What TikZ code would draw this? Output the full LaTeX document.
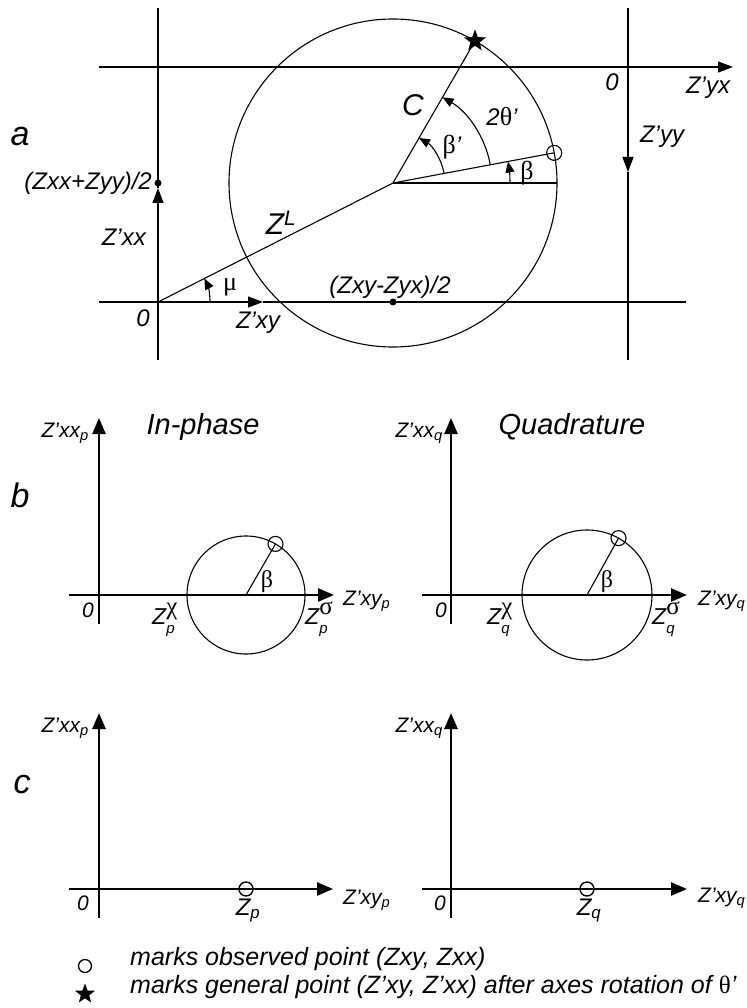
\documentclass[tikz,border=0pt]{standalone}
\usepackage{fontspec}
\setmainfont{Liberation Sans}
\newfontfamily\grk{Liberation Serif}
\usepackage{tikz}
\usetikzlibrary{arrows.meta,shapes.geometric,calc}
\newcommand{\fsz}[1]{\fontsize{#1}{#1}\selectfont}
\newcommand{\gk}[1]{{\grk\upshape #1}}
\newcommand{\Zsp}[2]{Z\makebox[0pt][l]{\raisebox{-0.42em}{\fsz{15}#2}}\raisebox{0.40em}{\grk\upshape\fsz{25}#1}}

\begin{document}
\begin{tikzpicture}[x=1pt, y=-1pt,
lbl/.style={font=\itshape\fsz{24}, inner sep=0pt},
axlbl/.style={font=\itshape\fsz{21}, inner sep=0pt},
part/.style={font=\itshape\fsz{34}, inner sep=0pt},
title/.style={font=\itshape\fsz{29}, inner sep=0pt},
greek/.style={font=\grk\upshape\fsz{26}, inner sep=0pt},
legend/.style={font=\itshape\fsz{25}, inner sep=0pt, anchor=base west},
thinl/.style={line width=1.1pt},
axis/.style={line width=2.6pt},
obs/.style={circle, draw, line width=1.1pt, minimum size=15pt, inner sep=0pt},
starmark/.style={star, star points=5, star point ratio=2.4, fill=black, inner sep=0pt, minimum size=23pt},
dot/.style={circle, fill, inner sep=0pt, minimum size=7pt},
big/.style={-{Triangle[length=15pt,width=11pt]}},
small/.style={-{Triangle[length=11pt,width=9pt]}},
axarr/.style={-{Triangle[length=16pt,width=13pt]}}]
\useasboundingbox (0,0) rectangle (746,1008);

% a: rotation diagram
\coordinate (Oa) at (158,302); \coordinate (Cc) at (393,183);
\coordinate (obs) at ($(Cc)+(-10.6:164)$); \coordinate (gen) at ($(Cc)+(-60:164)$);
\coordinate (ltop) at (158,8); \coordinate (lbot) at (158,360); \coordinate (lmid) at (158,188);
\coordinate (rtop) at (628,8); \coordinate (rbot) at (628,360); \coordinate (rmid) at (628,172);
\coordinate (tl) at (99,67); \coordinate (tr) at (733,67);
\coordinate (bl) at (99,302); \coordinate (br) at (686,302); \coordinate (bmid) at (263,302);
\draw[thinl, big] (tl) -- (tr);
\draw[thinl] (bl) -- (Oa); \draw[thinl, big] (Oa) -- (bmid); \draw[thinl] (bmid) -- (br);
\draw[thinl, big] (lbot) -- (lmid); \draw[thinl] (lmid) -- (ltop);
\draw[thinl, big] (rtop) -- (rmid); \draw[thinl] (rmid) -- (rbot);
\draw[thinl] (Cc) circle[radius=164];
\draw[thinl] (Oa) -- (Cc); \draw[thinl] (Cc) -- (gen); \draw[thinl] (Cc) -- (obs); \draw[thinl] (Cc) -- ++(164,0);
\draw[thinl, small] ([shift={(0:52)}]Oa) arc[start angle=0, end angle=-27, radius=52];
\draw[thinl, small] ([shift={(0:117)}]Cc) arc[start angle=0, end angle=-10.6, radius=117];
\draw[thinl, small] ([shift={(-10.6:52)}]Cc) arc[start angle=-10.6, end angle=-60, radius=52];
\draw[thinl, small] ([shift={(-10.6:99)}]Cc) arc[start angle=-10.6, end angle=-60, radius=99];
\node[obs] (obsa) at (obs) {};
\node[starmark] (gena) at (gen) {};
\node[dot] (halfxx) at (158,183) {}; \node[dot] (halfxy) at (393,302) {};
\node[part] (pa) at (20,137) {a};
\node[lbl, anchor=east] (lsum) at (152,183) {(Zxx+Zyy)/2};
\node[lbl, anchor=east] (lzxx) at (146,237) {Z’xx};
\node[lbl] (l0a) at (143,318) {0};
\node[lbl] (lzxy) at (258,323) {Z’xy};
\node[greek] (lmu) at (230,287) {μ};
\node[lbl, font=\itshape\fsz{30}] (lzl) at (281,223) {Z\textsuperscript{L}};
\node[lbl] (ldiff) at (390,287) {(Zxy-Zyx)/2};
\node[lbl, font=\itshape\fsz{30}] (lc) at (413,105) {C};
\node[lbl] (ltheta) at (502,117) {2\gk{\fsz{26}θ}’};
\node[lbl] (lbetap) at (452,147) {\gk{\fsz{26}β}’};
\node[greek] (lbeta) at (527,173) {β};
\node[lbl] (l0r) at (612,82) {0};
\node[lbl] (lzyx) at (708,88) {Z’yx};
\node[lbl] (lzyy) at (662,137) {Z’yy};

% b: in-phase and quadrature circles
\coordinate (Ob1) at (99,595); \coordinate (Ob2) at (451,595);
\coordinate (Cb1) at (246,595); \coordinate (Cb2) at (587,595);
\draw[axis, axarr] (99,624) -- (99,418); \draw[axis, axarr] (69,595) -- (334,595);
\draw[axis, axarr] (451,624) -- (451,418); \draw[axis, axarr] (422,595) -- (687,595);
\draw[thinl] (Cb1) circle[radius=59]; \draw[thinl] (Cb2) circle[radius=65];
\coordinate (pb1) at ($(Cb1)+(-60:59)$); \coordinate (pb2) at ($(Cb2)+(-61:65)$);
\draw[thinl] (Cb1) -- (pb1); \draw[thinl] (Cb2) -- (pb2);
\node[obs] (obsb1) at (pb1) {}; \node[obs] (obsb2) at (pb2) {};
\node[part] (pb) at (20,495) {b};
\node[title] (tin) at (203,427) {In-phase};
\node[title] (tquad) at (572,427) {Quadrature};
\node[axlbl, anchor=east] (lxxp) at (89,433) {Z’xx\textsubscript{p}};
\node[axlbl, anchor=east] (lxxq) at (443,433) {Z’xx\textsubscript{q}};
\node[axlbl, anchor=west] (lxyp) at (343,601) {Z’xy\textsubscript{p}};
\node[axlbl, anchor=west] (lxyq) at (698,601) {Z’xy\textsubscript{q}};
\node[axlbl] (l0b1) at (88,610) {0}; \node[axlbl] (l0b2) at (441,610) {0};
\node[greek, font=\grk\fsz{24}] (lbb1) at (267,582) {β}; \node[greek, font=\grk\fsz{24}] (lbb2) at (607,582) {β};
\node[axlbl, anchor=base west, font=\itshape\fsz{23}] (zchip) at (152,624) {\Zsp{χ}{p}};
\node[axlbl, anchor=base west, font=\itshape\fsz{23}] (zsigp) at (305,624) {\Zsp{σ}{p}};
\node[axlbl, anchor=base west, font=\itshape\fsz{23}] (zchiq) at (487,624) {\Zsp{χ}{q}};
\node[axlbl, anchor=base west, font=\itshape\fsz{23}] (zsigq) at (652,624) {\Zsp{σ}{q}};

% c: collapsed points
\draw[axis, axarr] (99,918) -- (99,713); \draw[axis, axarr] (69,889) -- (333,889);
\draw[axis, axarr] (451,918) -- (451,713); \draw[axis, axarr] (422,889) -- (687,889);
\node[obs, line width=1.4pt, minimum size=14pt] (zp) at (246,889) {};
\node[obs, line width=1.4pt, minimum size=14pt] (zq) at (587,889) {};
\node[part] (pc) at (22,785) {c};
\node[axlbl, anchor=east] (lcxxp) at (89,728) {Z’xx\textsubscript{p}};
\node[axlbl, anchor=east] (lcxxq) at (443,728) {Z’xx\textsubscript{q}};
\node[axlbl, anchor=west] (lcxyp) at (343,900) {Z’xy\textsubscript{p}};
\node[axlbl, anchor=west] (lcxyq) at (698,898) {Z’xy\textsubscript{q}};
\node[axlbl] (l0c1) at (83,903) {0}; \node[axlbl] (l0c2) at (440,903) {0};
\node[axlbl, anchor=base, font=\itshape\fsz{24}] (lzp) at (248,915) {Z\textsubscript{p}};
\node[axlbl, anchor=base, font=\itshape\fsz{24}] (lzq) at (589,915) {Z\textsubscript{q}};

% legend
\node[obs, line width=1.3pt, minimum size=13pt] (legobs) at (85,966) {};
\node[starmark, minimum size=21pt] (legstar) at (85,994) {};
\node[legend] (legtxt1) at (130,965) {marks observed point (Zxy, Zxx)};
\node[legend] (legtxt2) at (130,993) {marks general point (Z’xy, Z’xx) after axes rotation of \gk{θ}’};
\end{tikzpicture}
\end{document}
